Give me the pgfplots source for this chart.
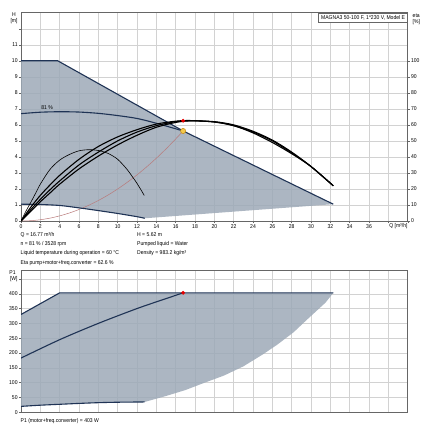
\documentclass[border=0pt]{standalone}
\usepackage{fontspec}
\setmainfont{Liberation Sans}[FakeStretch=0.9]
\usepackage{pgfplots}
\pgfplotsset{compat=1.18}
\definecolor{envfill}{HTML}{9DA9B7}
\definecolor{navy}{HTML}{1F3355}
\definecolor{gridc}{HTML}{D2D2D2}
\definecolor{sysc}{HTML}{B97A7A}
\definecolor{yellowc}{HTML}{F2C94C}
\definecolor{orangec}{HTML}{C98A10}
\newcommand\ff{\fontsize{5.6bp}{6.5bp}\selectfont}
\pgfplotsset{
  /pgf/number format/assume math mode=true,
  base/.style={scale only axis, width=386.7bp, xmin=0, xmax=40,
    axis line style={draw=black!60, line width=0.5bp},
    grid=major, grid style={draw=gridc, line width=0.45bp},
    tick style={draw=black!60, line width=0.4bp},
    major tick length=2.2bp, tick align=outside,
    xtick pos=left, ytick pos=left,
    xtick={0,2,...,40},
    tick label style={font=\ff, inner sep=1bp},
  }
}
\begin{document}
\begin{tikzpicture}[x=1bp,y=1bp]
\path (0,0) rectangle (430,-430);
% ---------------- top: Q-H ----------------
\begin{axis}[base, at={(21bp,-221bp)}, anchor=south west, height=208.3bp,
  ymin=0, ymax=13, ytick={0,1,...,12},
  yticklabels={0,1,2,3,4,5,6,7,8,9,10,11,{}},
  xticklabels={0,2,4,6,8,10,12,14,16,18,20,22,24,26,28,30,32,34,36,{},{}}]
\addplot[draw=none, fill=envfill, fill opacity=0.85] coordinates {
  (0,10) (3.8,10) (16.77,5.62) (32.3,1.05) (12.8,0.17) (12,0.27) (10,0.47)
  (8,0.65) (6,0.82) (4,0.97) (2,1.03) (0,1.05)} -- cycle;
% system curve
\addplot[sysc, line width=0.5bp, smooth] coordinates {
  (0,0) (1,0.02) (2,0.08) (3,0.18) (4,0.32) (5,0.5) (6,0.72) (7,0.98) (8,1.28)
  (9,1.62) (10,2.0) (11,2.42) (12,2.88) (13,3.38) (14,3.92) (15,4.5) (16,5.12) (16.77,5.62)};
% max curve
\addplot[navy, line width=1.1bp] coordinates {(0,10) (3.8,10) (16.77,5.62) (32.3,1.05)};
% 81 % curve
\addplot[navy, line width=1.1bp, smooth] coordinates {
  (0,6.7) (2,6.79) (4,6.82) (6,6.8) (8,6.72) (10,6.58) (12,6.4) (14,6.1) (16.77,5.62)};
% min curve
\addplot[navy, line width=1.1bp, smooth] coordinates {
  (0,1.05) (2,1.03) (4,0.97) (6,0.82) (8,0.65) (10,0.47) (12,0.27) (12.8,0.17)};
% efficiency curves (eta/10)
\addplot[black, line width=0.6bp, smooth] coordinates {
  (0,0) (0.5,0.6) (1,1.15) (1.5,1.72) (2,2.3) (3,3.22) (4,3.8) (5,4.15) (6,4.38)
  (7,4.45) (8,4.4) (9,4.22) (10,3.85) (11,3.2) (11.5,2.78) (12,2.35) (12.75,1.6)};
\addplot[black, line width=1.1bp, smooth] coordinates {
  (0,0) (1,0.85) (2,1.6) (3,2.25) (4,2.85) (6,3.85) (8,4.65) (10,5.25) (12,5.7)
  (14,6.05) (16,6.23) (17.5,6.27) (20,6.18) (22,5.95) (24,5.5) (26,4.9) (28,4.2) (30,3.4) (32.3,2.2)};
\addplot[black, line width=1.1bp, smooth] coordinates {
  (0,0) (1,0.7) (2,1.35) (3,1.95) (4,2.5) (6,3.5) (8,4.3) (10,5.0) (12,5.55)
  (14,5.95) (16,6.2) (17.5,6.26) (20,6.18) (22,5.95) (24,5.55) (26,5.0) (28,4.25) (30,3.4) (32.3,2.2)};
\addplot[black, line width=1.1bp, smooth] coordinates {
  (0,0) (1,0.6) (2,1.2) (3,1.75) (4,2.3) (6,3.25) (8,4.05) (10,4.75) (12,5.35)
  (14,5.85) (16,6.15) (17.5,6.25) (20,6.2) (22,6.0) (24,5.6) (26,5.05) (28,4.3) (30,3.4) (32.3,2.2)};
\addplot[only marks, mark=*, mark size=1.7bp, color=red!90!black] coordinates {(16.77,6.26)};
\addplot[only marks, mark=*, mark size=2.6bp, mark options={fill=yellowc, draw=orangec, line width=0.5bp}] coordinates {(16.77,5.62)};
\node[font=\ff] at (axis cs:2.7,7.1) {81 \%};
\end{axis}
% eta axis (right)
\begin{axis}[scale only axis, at={(21bp,-221bp)}, anchor=south west, width=386.7bp, height=208.3bp,
  xmin=0, xmax=40, ymin=0, ymax=130, axis y line*=right, axis x line=none,
  ytick={0,10,...,100}, tick align=outside, major tick length=2.2bp,
  axis line style={draw=black!60, line width=0.5bp},
  tick style={draw=black!60, line width=0.4bp},
  tick label style={font=\ff, inner sep=1bp}]
\addplot[draw=none] coordinates {(0,0) (40,130)};
\end{axis}
% ---------------- bottom: P1 ----------------
\begin{axis}[base, at={(21bp,-412.3bp)}, anchor=south west, height=142.3bp,
  ymin=0, ymax=480, ytick={0,50,...,450},
  yticklabels={0,50,100,150,200,250,300,350,400,{[W]}},
  xticklabels={}, xtick style={draw=none}]
\addplot[draw=none, fill=envfill, fill opacity=0.85] coordinates {
  (0,330) (4,403) (32.3,403) (31.5,370) (30.5,340) (29.5,310) (28.2,270) (26.5,228)
  (25,195) (23,155) (21,124) (19,100) (17,75) (15,55) (12.8,35) (10,34) (8,32.5)
  (6,30) (4,27) (2,24) (0,20)} -- cycle;
\addplot[navy, line width=1.1bp] coordinates {(0,330) (4,403) (32.3,403)};
\addplot[navy, line width=1.1bp, smooth] coordinates {
  (0,183) (4,245) (8,300) (12,350) (14.5,378) (16.77,403)};
\addplot[navy, line width=1.1bp, smooth] coordinates {
  (0,20) (2,24) (4,27) (6,30) (8,32.5) (10,34) (12.8,35)};
\addplot[only marks, mark=*, mark size=1.7bp, color=red!90!black] coordinates {(16.77,403)};
\end{axis}
% ---------------- texts ----------------
\begin{scope}[every node/.style={font=\ff, inner sep=0pt}]
\node at (14,-15) {H};
\node at (14,-21.5) {[m]};
\node[anchor=west] at (412.5,-15.5) {eta};
\node[anchor=west] at (412.5,-22.5) {[\%]};
\node[anchor=north east] at (407.7,-223.2) {Q [m³/h]};
\node[draw=black!60, line width=0.4bp, fill=white, anchor=north east, inner xsep=2.5bp,
  minimum height=9.4bp] at (407.7,-12.7) {MAGNA3 50-100 F, 1*230 V, Model E};
\node[anchor=base west] at (20.5,-236.5) {Q = 16.77 m³/h};
\node[anchor=base west] at (20.5,-245.7) {n = 81 \% / 3528 rpm};
\node[anchor=base west] at (20.5,-254.9) {Liquid temperature during operation = 60 °C};
\node[anchor=base west] at (20.5,-264.1) {Eta pump+motor+freq.converter = 62.6 \%};
\node[anchor=base west] at (137,-236.5) {H = 5.62 m};
\node[anchor=base west] at (137,-245.7) {Pumped liquid = Water};
\node[anchor=base west] at (137,-254.9) {Density = 983.2 kg/m³};
\node at (12.5,-272.3) {P1};
\node[anchor=base west] at (20.5,-422.5) {P1 (motor+freq.converter) = 403 W};
\end{scope}
\end{tikzpicture}
\end{document}
